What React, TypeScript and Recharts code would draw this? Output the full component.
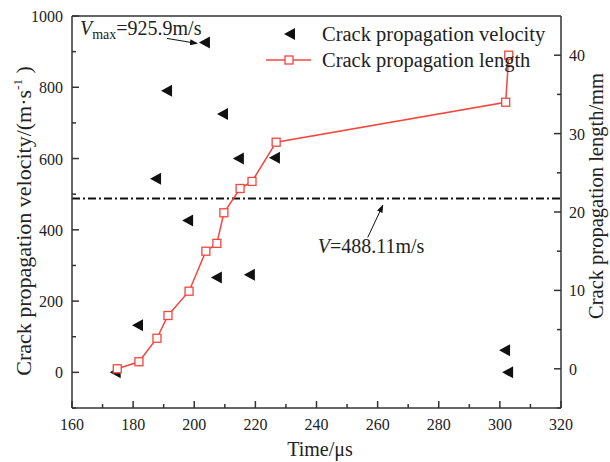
import { ScatterChart, Scatter, XAxis, YAxis, ReferenceLine, ReferenceDot } from 'recharts';

const velTime = [174.3, 181.6, 187.5, 191.1, 198, 203.5, 207.4, 209.4, 214.6, 218.2, 226.4, 301.7, 302.7];
const velocity = [0, 132, 543, 790, 426, 925.9, 266, 725, 600, 274, 602, 62, 0];

const lenTime = [174.8, 181.9, 187.8, 191.4, 198.3, 203.8, 207.4, 209.7, 215, 218.9, 226.8, 301.9, 302.9];
const length = [0, 0.9, 3.9, 6.8, 9.9, 15, 16, 19.9, 23, 23.9, 28.9, 34, 40];

const xTicks = [160, 170, 180, 190, 200, 210, 220, 230, 240, 250, 260, 270, 280, 290, 300, 310, 320];
const vTicks = [-100, 0, 100, 200, 300, 400, 500, 600, 700, 800, 900, 1000];
const lTicks = [-5, 0, 5, 10, 15, 20, 25, 30, 35, 40];

const vAvg = 488.11;
const vMax = 925.9;

const velData = velTime.map((t, i) => ({ t, v: velocity[i] }));
const lenData = lenTime.map((t, i) => ({ t, L: length[i] }));

const FONT = '"Liberation Serif", "Times New Roman", serif';
const AXIS = '#333';
const RED = '#f2463f';

const Triangle = (p: any) => (
  <polygon points={`${p.cx - 6},${p.cy} ${p.cx + 5},${p.cy - 6} ${p.cx + 5},${p.cy + 6}`} fill="#111" />
);
const Square = (p: any) => (
  <rect x={p.cx - 4} y={p.cy - 4} width={8} height={8} fill="#fff" stroke={RED} strokeWidth={1.3} />
);

const XTick = (p: any) => {
  const v = p.payload.value;
  const major = v % 20 === 0;
  return (
    <g>
      <line x1={p.x} x2={p.x} y1={p.y} y2={p.y - (major ? 7 : 4)} stroke={AXIS} strokeWidth={1.5} />
      {major && <text x={p.x} y={p.y + 22} textAnchor="middle" fontSize={16} fontFamily={FONT} fill="#222">{v}</text>}
    </g>
  );
};
const LeftTick = (p: any) => {
  const v = p.payload.value;
  const major = v % 200 === 0;
  return (
    <g>
      <line x1={p.x} x2={p.x + (major ? 7 : 4)} y1={p.y} y2={p.y} stroke={AXIS} strokeWidth={1.5} />
      {major && <text x={p.x - 9} y={p.y + 6} textAnchor="end" fontSize={16} fontFamily={FONT} fill="#222">{v}</text>}
    </g>
  );
};
const RightTick = (p: any) => {
  const v = p.payload.value;
  const major = v % 10 === 0;
  return (
    <g>
      <line x1={p.x} x2={p.x - (major ? 7 : 4)} y1={p.y} y2={p.y} stroke={AXIS} strokeWidth={1.5} />
      {major && <text x={p.x + 8} y={p.y + 6} textAnchor="start" fontSize={16} fontFamily={FONT} fill="#222">{v}</text>}
    </g>
  );
};

const MaxNote = (p: any) => (
  <g>
    <defs>
      <marker id="ah" markerWidth="8" markerHeight="6" refX="7" refY="3" orient="auto">
        <polygon points="0,0 8,3 0,6" fill="#111" />
      </marker>
    </defs>
    <text x={p.cx - 125} y={p.cy - 7} fontSize={20} fontFamily={FONT} fill="#222">
      <tspan fontStyle="italic">V</tspan>
      <tspan fontSize={14} dy={4}>max</tspan>
      <tspan dy={-4}>=925.9m/s</tspan>
    </text>
    <line x1={p.cx - 38} y1={p.cy - 4} x2={p.cx - 8} y2={p.cy + 1} stroke="#111" strokeWidth={1} markerEnd="url(#ah)" />
  </g>
);

const AvgNote = (p: any) => (
  <g>
    <line x1={p.cx - 16} y1={p.cy + 39} x2={p.cx - 1} y2={p.cy + 7} stroke="#111" strokeWidth={1} markerEnd="url(#ah)" />
    <text x={p.cx - 66} y={p.cy + 55} fontSize={20} fontFamily={FONT} fill="#222">
      <tspan fontStyle="italic">V</tspan>=488.11m/s
    </text>
  </g>
);

export default function App() {
  return (
    <div style={{ position: 'absolute', left: 0, top: 0, width: 610, height: 462, background: '#fff' }}>
      <ScatterChart width={610} height={462} margin={{ top: 15, right: 9, bottom: 24, left: 12 }}>
        <XAxis xAxisId={0} type="number" dataKey="t" domain={[160, 320]} ticks={xTicks} interval={0}
          height={30} tickSize={0} tickMargin={0} tick={<XTick />} tickLine={false}
          axisLine={{ stroke: AXIS, strokeWidth: 1.5 }} allowDataOverflow />
        <XAxis xAxisId="top" orientation="top" type="number" dataKey="t" domain={[160, 320]}
          height={1} tick={false} tickLine={false} axisLine={{ stroke: AXIS, strokeWidth: 1.5 }} />
        <YAxis yAxisId="left" type="number" dataKey="v" domain={[-100, 1000]} ticks={vTicks} interval={0}
          width={60} tickSize={0} tickMargin={0} tick={<LeftTick />} tickLine={false}
          axisLine={{ stroke: AXIS, strokeWidth: 1.5 }} allowDataOverflow />
        <YAxis yAxisId="right" orientation="right" type="number" dataKey="L" domain={[-5, 45]} ticks={lTicks} interval={0}
          width={40} tickSize={0} tickMargin={0} tick={<RightTick />} tickLine={false}
          axisLine={{ stroke: AXIS, strokeWidth: 1.5 }} allowDataOverflow />
        <ReferenceLine yAxisId="left" y={vAvg} stroke="#111" strokeWidth={2} strokeDasharray="8 3 2 3" />
        <Scatter data={velData} yAxisId="left" fill="#111" shape={Triangle} isAnimationActive={false} />
        <Scatter data={lenData} yAxisId="right" fill={RED} shape={Square}
          line={{ stroke: RED, strokeWidth: 1.5 }} lineType="joint" isAnimationActive={false} />
        <ReferenceDot yAxisId="left" x={203.5} y={vMax} r={0} shape={MaxNote} />
        <ReferenceDot yAxisId="left" x={262} y={vAvg} r={0} shape={AvgNote} />
      </ScatterChart>
      <svg width={610} height={462} style={{ position: 'absolute', left: 0, top: 0, pointerEvents: 'none' }}>
        <polygon points="284,34 295,28 295,40" fill="#111" />
        <text x={322} y={41} fontSize={20.5} fontFamily={FONT} fill="#222">Crack propagation velocity</text>
        <line x1={266} x2={311} y1={60} y2={60} stroke={RED} strokeWidth={1.5} />
        <rect x={285} y={56} width={8} height={8} fill="#fff" stroke={RED} strokeWidth={1.3} />
        <text x={322} y={67} fontSize={20.5} fontFamily={FONT} fill="#222">Crack propagation length</text>
        <text x={320} y={456} textAnchor="middle" fontSize={20} fontFamily={FONT} fill="#222">Time/μs</text>
        <text transform="translate(31,221) rotate(-90)" textAnchor="middle" fontSize={22} fontFamily={FONT} fill="#222">
          Crack propagation velocity/(m·s<tspan fontSize={13} dy={-9}>-1</tspan><tspan dy={9}> )</tspan>
        </text>
        <text transform="translate(603,196) rotate(-90)" textAnchor="middle" fontSize={20.5} fontFamily={FONT} fill="#222">
          Crack propagation length/mm
        </text>
      </svg>
    </div>
  );
}
